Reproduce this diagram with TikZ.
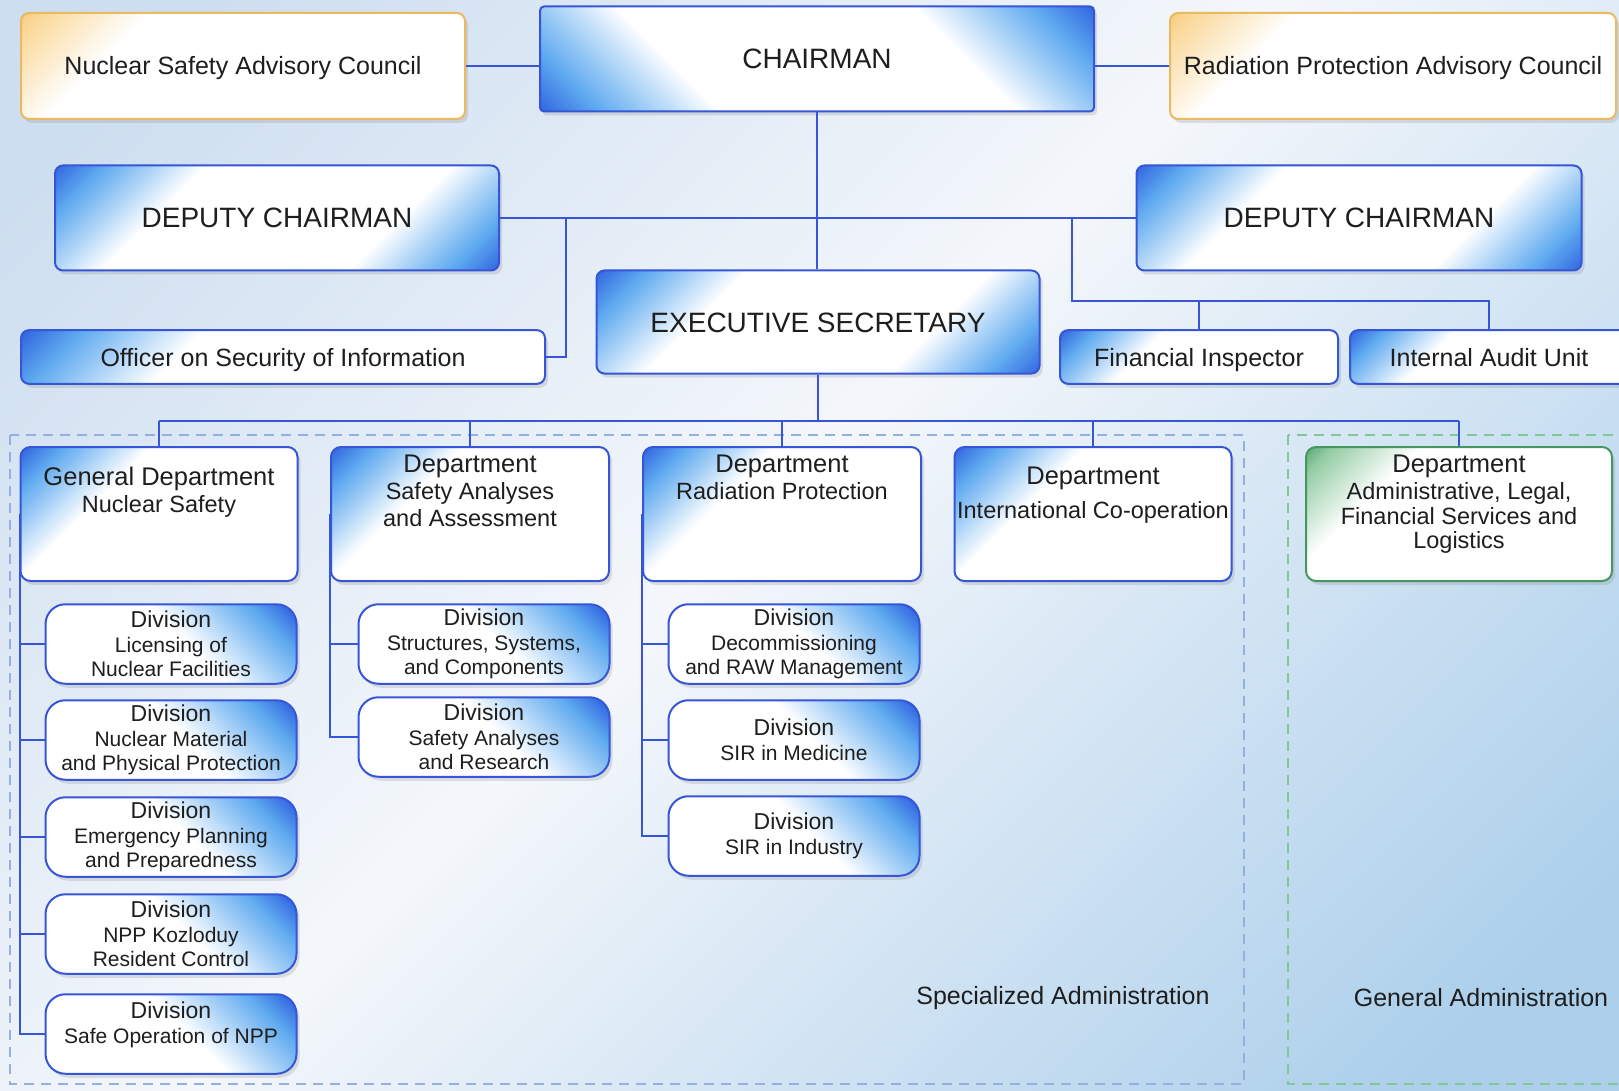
\documentclass[tikz,border=0pt]{standalone}
\usepackage{fontspec}
\setmainfont{Liberation Sans}
\usetikzlibrary{positioning,shadows}

\definecolor{deepblue}{RGB}{25,65,215}
\definecolor{skyblue}{RGB}{95,170,240}
\definecolor{lineblue}{RGB}{55,85,215}
\definecolor{deepgreen}{RGB}{20,120,60}
\definecolor{lightgreen}{RGB}{150,205,165}
\definecolor{linegreen}{RGB}{70,150,95}
\definecolor{deeporange}{RGB}{240,165,40}
\definecolor{lightorange}{RGB}{250,215,150}
\definecolor{lineorange}{RGB}{235,185,95}
\definecolor{bgtop}{RGB}{205,222,240}
\definecolor{bgmid}{RGB}{244,247,251}
\definecolor{bgbot}{RGB}{172,207,235}
\definecolor{zoneblue}{RGB}{150,175,225}
\definecolor{zonegreen}{RGB}{130,200,150}
\definecolor{txt}{RGB}{30,30,30}

\pgfdeclarehorizontalshading{twoblue}{100bp}{color(0bp)=(deepblue); color(11bp)=(deepblue); color(21bp)=(skyblue); color(34bp)=(white); color(66bp)=(white); color(79bp)=(skyblue); color(89bp)=(deepblue); color(100bp)=(deepblue)}
\pgfdeclarehorizontalshading{oneblue}{100bp}{color(0bp)=(deepblue); color(11bp)=(deepblue); color(22bp)=(skyblue); color(37bp)=(white); color(100bp)=(white)}
\pgfdeclarehorizontalshading{divblue}{100bp}{color(0bp)=(deepblue); color(12bp)=(deepblue); color(25bp)=(skyblue); color(46bp)=(white); color(100bp)=(white)}
\pgfdeclarehorizontalshading{onegreen}{100bp}{color(0bp)=(deepgreen); color(9bp)=(deepgreen); color(19bp)=(lightgreen); color(33bp)=(white); color(100bp)=(white)}
\pgfdeclarehorizontalshading{oneorange}{100bp}{color(0bp)=(deeporange); color(7bp)=(deeporange); color(17bp)=(lightorange); color(31bp)=(white); color(100bp)=(white)}
\pgfdeclarehorizontalshading{backdrop}{100bp}{color(0bp)=(bgtop); color(20bp)=(bgtop); color(48bp)=(bgmid); color(80bp)=(bgbot); color(100bp)=(bgbot)}

\newcommand{\divhead}[1]{{\fontsize{23}{24.7}\selectfont #1}}
\newcommand{\depthead}[1]{{\fontsize{25.5}{27}\selectfont #1}}

\tikzset{
    % boxes
    box/.style={rectangle, draw=lineblue, line width=2pt, rounded corners=8pt,
           text=txt, align=center,
           drop shadow={shadow xshift=3pt, shadow yshift=-4pt, opacity=.22}},
    chief/.style={box, shading=twoblue, shading angle=-45,
           text height=20pt, text depth=0pt,
           font=\fontsize{28}{32}\selectfont},
    council/.style={box, draw=lineorange, shading=oneorange, shading angle=-45,
           text height=18pt, text depth=0pt,
           font=\fontsize{25}{29}\selectfont},
    unit/.style={box, shading=oneblue, shading angle=-45, minimum height=53.6pt,
           text height=18pt, text depth=0pt,
           font=\fontsize{25}{29}\selectfont},
    dept/.style={box, shading=oneblue, shading angle=-45, minimum height=134pt,
           rounded corners=10pt},
    depttxt/.style={inner sep=0pt, align=center, text=txt,
           font=\fontsize{23.5}{27}\selectfont},
    division/.style={box, shading=divblue, shading angle=-135, minimum width=251pt,
           minimum height=79.5pt, rounded corners=20pt,
           font=\fontsize{21}{24.7}\selectfont},
    % connectors and zones
    link/.style={draw=lineblue, line width=2pt},
    zone/.style={dash pattern=on 10pt off 7pt, line width=2pt},
    zonetxt/.style={text=txt, font=\fontsize{25}{29}\selectfont}
}

\begin{document}
\begin{tikzpicture}[x=1pt, y=-1pt]
\useasboundingbox (0,0) rectangle (1619,1091);
\fill[shading=backdrop, shading angle=-45] (0,0) rectangle (1619,1091);

% zones
\draw[zone, draw=zoneblue] (10,435) rectangle (1244,1084);
\draw[zone, draw=zonegreen] (1288,435) rectangle (1626,1084);
\node[zonetxt] (spectxt) at (1063,998) {Specialized Administration};
\node[zonetxt] (gentxt) at (1481,998) {General Administration};

% top management
\node[chief, minimum width=554pt, minimum height=105pt, rounded corners=4pt,
      shading angle=45] (chair) at (817,59) {CHAIRMAN};
\node[council, minimum width=444pt, minimum height=106pt] (nsac) at (243,66) {Nuclear Safety Advisory Council};
\node[council, minimum width=446pt, minimum height=106pt] (rpac) at (1393,66) {Radiation Protection Advisory Council};
\node[chief, minimum width=444pt, minimum height=105pt] (depl) at (277,218) {DEPUTY CHAIRMAN};
\node[chief, minimum width=445pt, minimum height=105pt] (depr) at (1359,218) {DEPUTY CHAIRMAN};
\node[chief, minimum width=443pt, minimum height=103pt] (exec) at (818,322) {EXECUTIVE SECRETARY};
\node[unit, minimum width=524pt] (officer) at (283,357) {Officer on Security of Information};
\node[unit, minimum width=278pt] (fin) at (1199,357) {Financial Inspector};
\node[unit, minimum width=278pt] (audit) at (1489,357) {Internal Audit Unit};

% departments
\node[dept, minimum width=277pt] (gdns) at (159,514) {};
\node[dept, minimum width=278pt] (dsaa) at (470,514) {};
\node[dept, minimum width=278pt] (drp) at (782,514) {};
\node[dept, minimum width=277pt] (dic) at (1093,514) {};
\node[dept, draw=linegreen, shading=onegreen, minimum width=306pt] (dalf) at (1459,514) {};
\node[depttxt, below=21pt of gdns.north] (gdnsT) {\depthead{General Department}\\Nuclear Safety};
\node[depttxt, below=8.5pt of dsaa.north] (dsaaT) {\depthead{Department}\\Safety Analyses\\and Assessment};
\node[depttxt, below=8.5pt of drp.north] (drpT) {\depthead{Department}\\Radiation Protection};
\node[depttxt, below=21pt of dic.north, font=\fontsize{23.5}{34}\selectfont] (dicT) {\depthead{Department}\\International Co-operation};
\node[depttxt, below=8.5pt of dalf.north, font=\fontsize{23.5}{24.5}\selectfont] (dalfT) {\depthead{Department}\\[3pt]Administrative, Legal,\\Financial Services and\\Logistics};

% divisions
\node[division] (lic) at (171,644) {\divhead{Division}\\Licensing of\\Nuclear Facilities};
\node[division] (nmpp) at (171,740) {\divhead{Division}\\Nuclear Material\\and Physical Protection};
\node[division] (epp) at (171,837) {\divhead{Division}\\Emergency Planning\\and Preparedness};
\node[division] (npp) at (171,934) {\divhead{Division}\\NPP Kozloduy\\Resident Control};
\node[division] (sop) at (171,1034) {};
\node[depttxt, below=8.3pt of sop.north, font=\fontsize{21}{24.7}\selectfont] (sopT) {\divhead{Division}\\Safe Operation of NPP};
\node[division] (ssc) at (484,644) {\divhead{Division}\\Structures, Systems,\\and Components};
\node[division] (sar) at (484,737) {\divhead{Division}\\Safety Analyses\\and Research};
\node[division] (drw) at (794,644) {\divhead{Division}\\Decommissioning\\and RAW Management};
\node[division] (sirm) at (794,740) {\divhead{Division}\\SIR in Medicine};
\node[division] (siri) at (794,836) {\divhead{Division}\\SIR in Industry};

% connectors
\coordinate (offbr) at (566,218);
\coordinate (finbr) at (1072,218);
\coordinate (finbus) at (1072,300.5);
\coordinate (deptbus) at (818,421);
\draw[link] (nsac.east) -- (nsac.east -| chair.west);
\draw[link] (rpac.west) -- (rpac.west -| chair.east);
\draw[link] (chair.south) -- (chair.south |- exec.north);
\draw[link] (depl.east) -- (depr.west);
\draw[link] (offbr) |- (officer.east);
\draw[link] (finbr) |- (audit.north |- finbus) -- (audit.north);
\draw[link] (fin.north) -- (fin.north |- finbus);
\draw[link] (exec.south) -- (deptbus);
\draw[link] (gdns.north |- deptbus) -- (dalf.north |- deptbus);
\foreach \d in {gdns,dsaa,drp,dic,dalf}
    \draw[link] (\d.north |- deptbus) -- (\d.north);
\draw[link] (gdns.west) |- (sop.west);
\foreach \d in {lic,nmpp,epp,npp}
    \draw[link] (gdns.west |- \d.west) -- (\d.west);
\draw[link] (dsaa.west) |- (sar.west);
\draw[link] (dsaa.west |- ssc.west) -- (ssc.west);
\draw[link] (drp.west) |- (siri.west);
\foreach \d in {drw,sirm}
    \draw[link] (drp.west |- \d.west) -- (\d.west);
\end{tikzpicture}
\end{document}
